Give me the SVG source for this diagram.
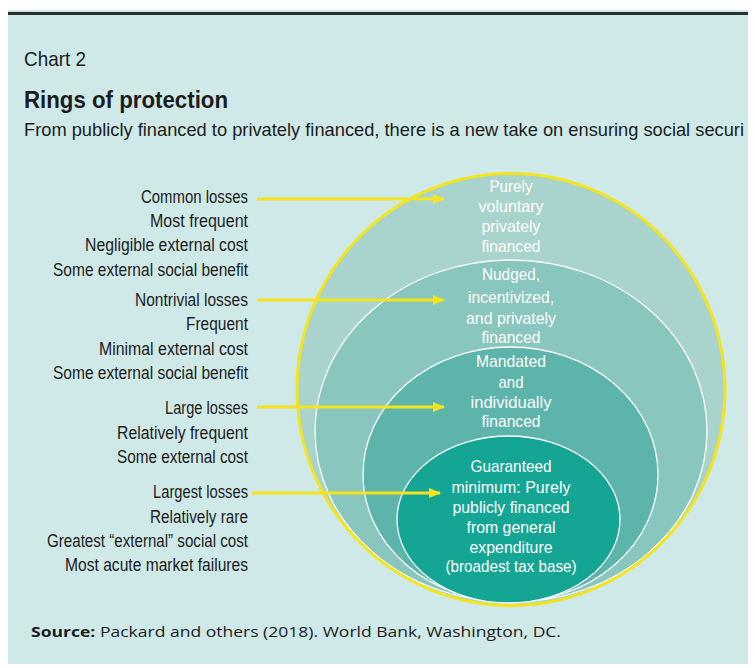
<svg xmlns="http://www.w3.org/2000/svg" width="755" height="668" viewBox="0 0 755 668">
  <style>
    .label { font-family: "Liberation Sans", Arial, sans-serif; font-size: 17.5px; fill: #1c1c1c; text-anchor: end; }
    .ring-text { font-family: "Liberation Sans", Arial, sans-serif; font-size: 17px; fill: #ffffff; text-anchor: middle; }
    .ring-edge { stroke: #ffffff; stroke-width: 1.3; }
    .arrow { stroke: #f3e41c; stroke-width: 3; fill: none; marker-end: url(#head); }
  </style>
  <defs>
    <marker id="head" viewBox="0 0 12 10" refX="11" refY="5" markerWidth="12" markerHeight="10" markerUnits="userSpaceOnUse" orient="auto">
      <path d="M0,0 L12,5 L0,10 Z" fill="#f3e41c"/>
    </marker>
  </defs>

  <!-- page and panel -->
  <rect x="0" y="0" width="755" height="668" fill="#ffffff"/>
  <rect x="8" y="10" width="740" height="654" fill="#cfe9e8"/>
  <rect x="8" y="12" width="740" height="3" fill="#2b2f30"/>

  <!-- headings -->
  <g id="title">
    <text x="24" y="66" font-family="Liberation Sans, Arial, sans-serif" font-size="21" fill="#1c1c1c" textLength="62" lengthAdjust="spacingAndGlyphs">Chart 2</text>
    <text x="24" y="108" font-family="Liberation Sans, Arial, sans-serif" font-size="24" font-weight="bold" fill="#1c1c1c" textLength="204" lengthAdjust="spacingAndGlyphs">Rings of protection</text>
    <text x="24" y="136" font-family="Liberation Sans, Arial, sans-serif" font-size="19" fill="#1c1c1c" textLength="720" lengthAdjust="spacingAndGlyphs">From publicly financed to privately financed, there is a new take on ensuring social securi</text>
  </g>

  <!-- nested rings -->
  <g id="ring-voluntary">
    <ellipse cx="511" cy="389" rx="214" ry="216" fill="#a9d3cd"/>
  </g>
  <g id="ring-nudged">
    <ellipse class="ring-edge" cx="511" cy="431" rx="196" ry="171" fill="#89c6bd"/>
  </g>
  <g id="ring-mandated">
    <ellipse class="ring-edge" cx="510.5" cy="474.5" rx="147.5" ry="127.5" fill="#5cb4aa"/>
  </g>
  <g id="ring-guaranteed">
    <ellipse class="ring-edge" cx="508.5" cy="519.5" rx="111.5" ry="83.5" fill="#14a595"/>
  </g>
  <g id="ring-border">
    <ellipse cx="511" cy="389.5" rx="214" ry="216" fill="none" stroke="#f3e41c" stroke-width="3"/>
  </g>

  <!-- ring captions -->
  <g id="caption-voluntary">
    <text class="ring-text" x="511" y="192" textLength="43" lengthAdjust="spacingAndGlyphs">Purely</text>
    <text class="ring-text" x="511" y="212" textLength="65" lengthAdjust="spacingAndGlyphs">voluntary</text>
    <text class="ring-text" x="511" y="232" textLength="59" lengthAdjust="spacingAndGlyphs">privately</text>
    <text class="ring-text" x="511" y="252" textLength="59" lengthAdjust="spacingAndGlyphs">financed</text>
  </g>
  <g id="caption-nudged">
    <text class="ring-text" x="511" y="280" textLength="58" lengthAdjust="spacingAndGlyphs">Nudged,</text>
    <text class="ring-text" x="511" y="303" textLength="86" lengthAdjust="spacingAndGlyphs">incentivized,</text>
    <text class="ring-text" x="511" y="324" textLength="90" lengthAdjust="spacingAndGlyphs">and privately</text>
    <text class="ring-text" x="511" y="343" textLength="59" lengthAdjust="spacingAndGlyphs">financed</text>
  </g>
  <g id="caption-mandated">
    <text class="ring-text" x="511" y="367" textLength="70" lengthAdjust="spacingAndGlyphs">Mandated</text>
    <text class="ring-text" x="511" y="388" textLength="25" lengthAdjust="spacingAndGlyphs">and</text>
    <text class="ring-text" x="511" y="408" textLength="81" lengthAdjust="spacingAndGlyphs">individually</text>
    <text class="ring-text" x="511" y="427" textLength="59" lengthAdjust="spacingAndGlyphs">financed</text>
  </g>
  <g id="caption-guaranteed">
    <text class="ring-text" x="511" y="472" textLength="81" lengthAdjust="spacingAndGlyphs">Guaranteed</text>
    <text class="ring-text" x="511" y="493" textLength="119" lengthAdjust="spacingAndGlyphs">minimum: Purely</text>
    <text class="ring-text" x="511" y="513" textLength="117" lengthAdjust="spacingAndGlyphs">publicly financed</text>
    <text class="ring-text" x="511" y="533" textLength="89" lengthAdjust="spacingAndGlyphs">from general</text>
    <text class="ring-text" x="511" y="553" textLength="83" lengthAdjust="spacingAndGlyphs">expenditure</text>
    <text class="ring-text" x="511" y="572" textLength="131" lengthAdjust="spacingAndGlyphs">(broadest tax base)</text>
  </g>

  <!-- loss descriptions -->
  <g id="losses-common">
    <text class="label" x="248" y="203" textLength="107" lengthAdjust="spacingAndGlyphs">Common losses</text>
    <text class="label" x="248" y="227" textLength="98" lengthAdjust="spacingAndGlyphs">Most frequent</text>
    <text class="label" x="248" y="251" textLength="163" lengthAdjust="spacingAndGlyphs">Negligible external cost</text>
    <text class="label" x="248" y="276" textLength="195" lengthAdjust="spacingAndGlyphs">Some external social benefit</text>
  </g>
  <g id="losses-nontrivial">
    <text class="label" x="248" y="306" textLength="113" lengthAdjust="spacingAndGlyphs">Nontrivial losses</text>
    <text class="label" x="248" y="330" textLength="62" lengthAdjust="spacingAndGlyphs">Frequent</text>
    <text class="label" x="248" y="355" textLength="149" lengthAdjust="spacingAndGlyphs">Minimal external cost</text>
    <text class="label" x="248" y="379" textLength="195" lengthAdjust="spacingAndGlyphs">Some external social benefit</text>
  </g>
  <g id="losses-large">
    <text class="label" x="248" y="414" textLength="83" lengthAdjust="spacingAndGlyphs">Large losses</text>
    <text class="label" x="248" y="439" textLength="131" lengthAdjust="spacingAndGlyphs">Relatively frequent</text>
    <text class="label" x="248" y="463" textLength="131" lengthAdjust="spacingAndGlyphs">Some external cost</text>
  </g>
  <g id="losses-largest">
    <text class="label" x="248" y="498" textLength="95" lengthAdjust="spacingAndGlyphs">Largest losses</text>
    <text class="label" x="248" y="523" textLength="98" lengthAdjust="spacingAndGlyphs">Relatively rare</text>
    <text class="label" x="248" y="547" textLength="201" lengthAdjust="spacingAndGlyphs">Greatest “external” social cost</text>
    <text class="label" x="248" y="571" textLength="183" lengthAdjust="spacingAndGlyphs">Most acute market failures</text>
  </g>

  <!-- connectors -->
  <g id="connectors">
    <line class="arrow" x1="257" y1="199" x2="444" y2="199"/>
    <line class="arrow" x1="257" y1="300" x2="444" y2="300"/>
    <line class="arrow" x1="257" y1="407" x2="444" y2="407"/>
    <line class="arrow" x1="252" y1="493" x2="440" y2="493"/>
  </g>

  <!-- source note -->
  <g id="source">
    <text x="31" y="637" font-family="Open Sans, Liberation Sans, sans-serif" font-size="15" fill="#1c1c1c" textLength="530" lengthAdjust="spacingAndGlyphs"><tspan font-weight="bold">Source:</tspan> Packard and others (2018). World Bank, Washington, DC.</text>
  </g>
</svg>
